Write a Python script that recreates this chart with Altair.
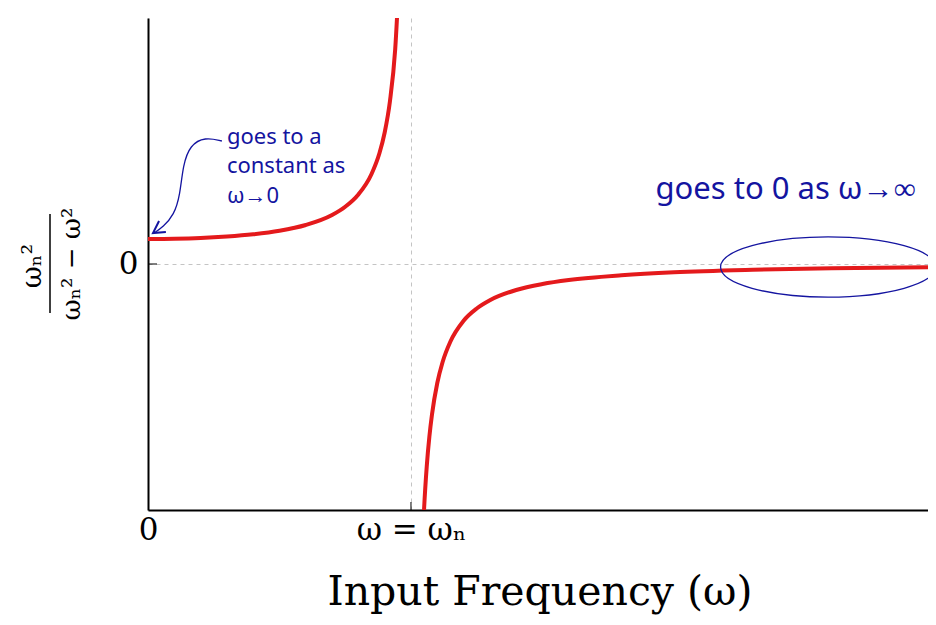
import altair as alt
import pandas as pd

# ---- data (x in units of omega_n) ----
upper_x = [0.0, 0.1, 0.2, 0.3, 0.4, 0.5, 0.6, 0.7, 0.75, 0.8, 0.85, 0.88, 0.9, 0.92, 0.94, 0.96]
upper_y = [1.0, 1.01, 1.04, 1.10, 1.19, 1.33, 1.56, 1.96, 2.29, 2.78, 3.60, 4.43, 5.26, 6.51, 8.59, 12.76]
lower_x = [1.04, 1.05, 1.06, 1.07, 1.08, 1.10, 1.12, 1.15, 1.2, 1.25, 1.3, 1.4, 1.5, 1.6, 1.8, 2.0, 2.3, 2.6, 2.97]
lower_y = [-12.25, -9.76, -8.09, -6.90, -6.01, -4.76, -3.93, -3.10, -2.27, -1.78, -1.45, -1.04, -0.80, -0.64, -0.45, -0.33, -0.23, -0.17, -0.13]

# handwritten notes
note1_x = [0.30, 0.30, 0.30]
note1_y = [5.08, 3.92, 2.72]
note1_t = ["goes to a", "constant as", "ω→0"]
note2_x = [1.93]
note2_y = [2.96]
note2_t = ["goes to 0 as ω→∞"]
arrow_x = [0.281, 0.217, 0.160, 0.133, 0.122, 0.099, 0.057, 0.023]
arrow_y = [4.92, 5.08, 4.76, 3.96, 2.76, 1.96, 1.48, 1.24]
head_x = [0.042, 0.019, 0.068]
head_y = [1.72, 1.24, 1.28]
ellipse_x = [2.586]
ellipse_y = [-0.12]

XMAX = 2.966
YLIM = 9.84
RED = "#e41a1c"
BLUE = "#1414a0"
SERIF = "DejaVu Serif"

curve = pd.DataFrame({
    "x": upper_x + lower_x,
    "y": upper_y + lower_y,
    "branch": ["a"] * len(upper_x) + ["b"] * len(lower_x),
})

xs = alt.Scale(domain=[0, XMAX], nice=False, zero=False)
ys = alt.Scale(domain=[-YLIM, YLIM], nice=False, zero=False)

xaxis = alt.Axis(values=[0, 1], labelExpr="datum.value == 0 ? '0' : 'ω = ωₙ'",
                 labelFlush=False, grid=True, gridDash=[4, 4], gridColor="#c4c4c4",
                 gridWidth=1, ticks=False, domainColor="black", domainWidth=2,
                 labelFont=SERIF, labelFontSize=31, labelColor="black", labelPadding=5,
                 title=None)
yaxis = alt.Axis(values=[0], labelFlush=False, grid=True, gridDash=[4, 4], gridColor="#c4c4c4",
                 gridWidth=1, ticks=False, domainColor="black", domainWidth=2,
                 labelFont=SERIF, labelFontSize=31, labelColor="black", labelPadding=10,
                 title=None)

line = alt.Chart(curve).mark_line(color=RED, strokeWidth=4, interpolate="monotone", clip=True).encode(
    x=alt.X("x:Q", scale=xs, axis=xaxis),
    y=alt.Y("y:Q", scale=ys, axis=yaxis),
    detail="branch:N",
)

tick_x = alt.Chart().mark_rule(color="black", strokeWidth=1).encode(
    x=alt.datum(1), y=alt.value(492), y2=alt.value(484))
tick_y = alt.Chart().mark_rule(color="black", strokeWidth=1).encode(
    x=alt.value(0), x2=alt.value(9), y=alt.datum(0))

n1 = alt.Chart(pd.DataFrame({"x": note1_x, "y": note1_y, "t": note1_t})).mark_text(
    align="left", baseline="middle", font="Noto Sans", fontSize=22, color=BLUE).encode(
    x="x:Q", y="y:Q", text="t:N")
n2 = alt.Chart(pd.DataFrame({"x": note2_x, "y": note2_y, "t": note2_t})).mark_text(
    align="left", baseline="middle", font="Noto Sans", fontSize=31, color=BLUE).encode(
    x="x:Q", y="y:Q", text="t:N")

arrow = alt.Chart(pd.DataFrame({"x": arrow_x, "y": arrow_y, "i": list(range(len(arrow_x)))})).mark_line(
    color=BLUE, strokeWidth=1.3, interpolate="basis").encode(x="x:Q", y="y:Q", order="i:Q")
head = alt.Chart(pd.DataFrame({"x": head_x, "y": head_y, "i": list(range(len(head_x)))})).mark_line(
    color=BLUE, strokeWidth=2).encode(x="x:Q", y="y:Q", order="i:Q")

ellipse = alt.Chart(pd.DataFrame({"x": ellipse_x, "y": ellipse_y})).mark_point(
    shape="M-1,0 A1,0.28 0 1,0 1,0 A1,0.28 0 1,0 -1,0", size=215 * 215,
    filled=False, color=BLUE, strokeWidth=1.3, opacity=1).encode(x="x:Q", y="y:Q")

# y-axis title as a rotated fraction
num = alt.Chart().mark_text(text="ωₙ²", angle=270, font=SERIF, fontSize=27, color="black",
                            align="center", baseline="middle").encode(
    x=alt.value(-115), y=alt.value(248))
den = alt.Chart().mark_text(text="ωₙ² − ω²", angle=270, font=SERIF, fontSize=26, color="black",
                            align="center", baseline="middle").encode(
    x=alt.value(-76), y=alt.value(246))
bar = alt.Chart().mark_rule(color="black", strokeWidth=1.5).encode(
    x=alt.value(-98), y=alt.value(196), y2=alt.value(295))

xtitle = alt.Chart().mark_text(text="Input Frequency (ω)", font=SERIF, fontSize=41, color="black",
                               align="center", baseline="alphabetic").encode(
    x=alt.value(392), y=alt.value(587))

chart = alt.layer(line, tick_x, tick_y, n1, n2, arrow, head, ellipse, num, den, bar, xtitle).properties(
    width=780, height=492,
    autosize=alt.AutoSizeParams(type="none"),
    padding={"left": 140, "top": 10, "right": 0, "bottom": 107},
).configure_view(stroke=None)

chart.save("out.html", embed_options={"renderer": "svg", "actions": False})
